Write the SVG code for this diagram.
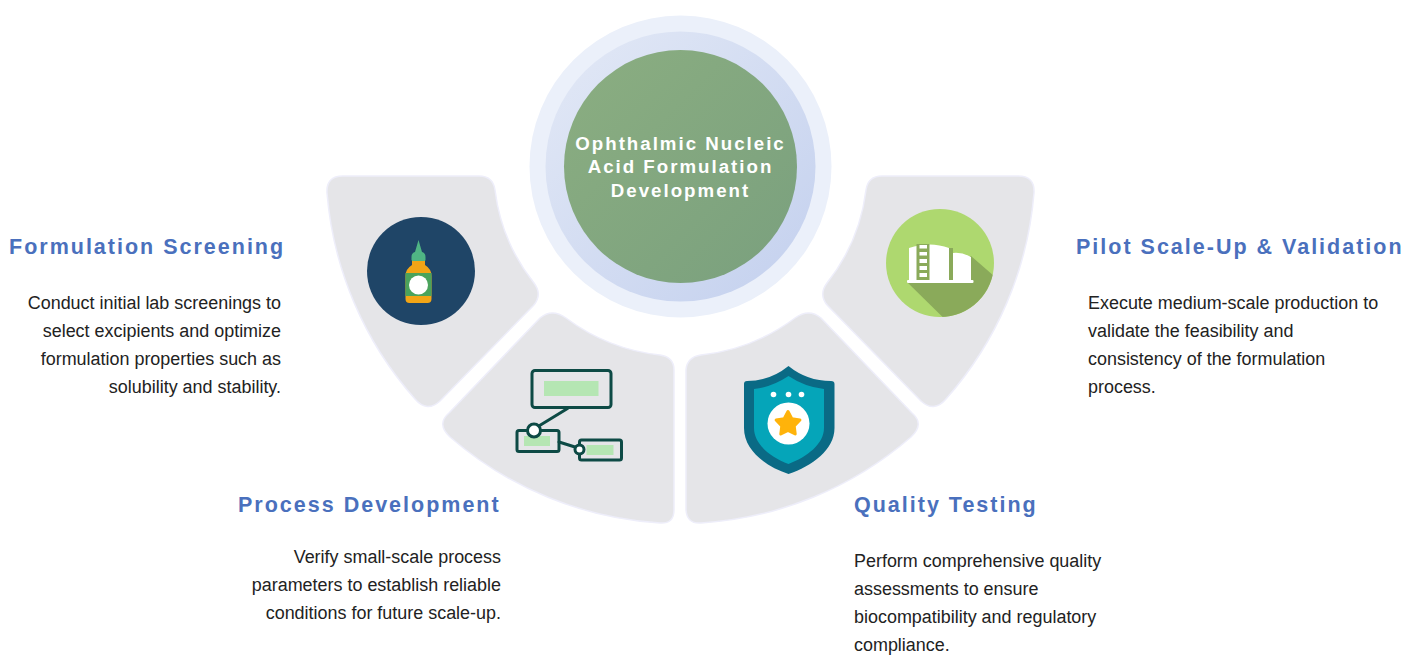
<svg xmlns="http://www.w3.org/2000/svg" width="1420" height="671" viewBox="0 0 1420 671">
<style>
.sector{fill:#e5e5e8;stroke:#eeeefa;stroke-width:1.5}
.head{font-family:"Liberation Sans",Arial,sans-serif;font-weight:700;font-size:21.5px;letter-spacing:2px;fill:#4a70bd}
.body{font-family:"Liberation Sans",Arial,sans-serif;font-size:17.95px;fill:#222}
.center{font-family:"Liberation Sans",Arial,sans-serif;font-weight:700;font-size:18.7px;letter-spacing:2px;fill:#fff;text-anchor:middle}
.end{text-anchor:end}
.line{fill:none;stroke:#0d4a45;stroke-width:3;stroke-linejoin:round;stroke-linecap:round}
.pale{fill:#b5e6b3}
</style>
<defs>
<linearGradient id="hub" x1="0" y1="0" x2="1" y2="1"><stop offset="0" stop-color="#8bae81"/><stop offset="1" stop-color="#7aa07e"/></linearGradient>
<linearGradient id="ring" x1="0" y1="0" x2="1" y2="1"><stop offset="0" stop-color="#e3e9f6"/><stop offset="1" stop-color="#c3d0ee"/></linearGradient>
<clipPath id="tankClip"><circle cx="940" cy="263" r="54"/></clipPath>
</defs>
<rect width="1420" height="671" fill="#fff"/>

<g id="hub-node">
<circle cx="680.5" cy="166.500" r="151" fill="#ebf0fa"/>
<circle cx="680.5" cy="166.500" r="135" fill="url(#ring)"/>
<circle cx="680.5" cy="166.500" r="116.500" fill="url(#hub)"/>
<text class="center" x="680.5" y="150">Ophthalmic Nucleic</text>
<text class="center" x="680.5" y="173">Acid Formulation</text>
<text class="center" x="680.5" y="197">Development</text>
</g>

<g id="formulation-screening">
<path class="sector" d="M343 176 L479 176 Q493 176 495 190 A186 186 0 0 0 534 283 Q543 295 533 306 L440 401 Q427 413 415 399 A354 354 0 0 1 327 193 Q326 176 343 176 Z"/>
<circle cx="421" cy="271" r="54" fill="#1f4567"/>
<path d="M405.500 276 Q405.500 269 412 265 L412 258 L425 258 L425 265 Q431.500 269 431.500 276 L431.500 299 Q431.500 303 427.500 303 L409.500 303 Q405.500 303 405.500 299 Z" fill="#f2a516"/>
<rect x="405.500" y="273" width="26" height="23" fill="#4aa35c"/>
<path d="M418.500 240 L422 252 Q425.500 253 425.500 257 L425.500 260 Q425.500 261 424 261 L413 261 Q411.500 261 411.500 260 L411.500 257 Q411.500 253 415 252 Z" fill="#4fb584"/>
<circle cx="418.500" cy="285" r="9.500" fill="#fff"/>
<text class="head" x="9" y="254">Formulation Screening</text>
<text class="body end" x="281" y="309">Conduct initial lab screenings to</text>
<text class="body end" x="281" y="337">select excipients and optimize</text>
<text class="body end" x="281" y="365">formulation properties such as</text>
<text class="body end" x="281" y="393">solubility and stability.</text>
</g>

<g id="process-development">
<path class="sector" d="M449 413 L540 318 Q552 308 566 318 A192 192 0 0 0 660 355 Q674 357 674 370 L674 510 Q674 524 660 523 A354 354 0 0 1 450 437 Q436 424 449 413 Z"/>
<rect class="pale" x="544" y="381" width="54.500" height="15"/>
<rect class="line" x="532" y="370.500" width="79" height="37" rx="3"/>
<rect class="pale" x="524" y="436" width="26" height="10"/>
<rect class="line" x="517" y="430.500" width="42" height="21" rx="2"/>
<rect class="pale" x="586.500" y="445" width="27" height="10"/>
<rect class="line" x="579.500" y="440" width="42" height="20" rx="2"/>
<path class="line" d="M567.500 408.500 L538 426.500 M559 442 L575 447"/>
<circle class="line" cx="534" cy="430.500" r="6.500" style="fill:#fff"/>
<circle class="line" cx="579.500" cy="449.500" r="4.500" style="fill:#fff"/>
<text class="head" x="238" y="512">Process Development</text>
<text class="body end" x="501" y="563">Verify small-scale process</text>
<text class="body end" x="501" y="591">parameters to establish reliable</text>
<text class="body end" x="501" y="619">conditions for future scale-up.</text>
</g>

<g id="quality-testing">
<path class="sector" d="M912 413 L821 318 Q809 308 795 318 A192 192 0 0 1 701 355 Q687 357 686 370 L686 510 Q687 524 701 523 A354 354 0 0 0 911 437 Q925 424 912 413 Z"/>
<path d="M788.500 366 Q770 381 747 381 Q744 381 744 384 L744 428 C744 450 765 466 788.500 474 C812 466 834.500 450 834.500 428 L834.500 384 Q834.500 381 831 381 Q807 381 788.500 366 Z" fill="#0a6a85"/>
<path d="M788.500 376 Q772 387 754 389 L754 428 C754 444 770 457 788.500 464 C807 457 824 444 824 428 L824 389 Q805 387 788.500 376 Z" fill="#05a5b9"/>
<circle cx="773.500" cy="394.500" r="2.800" fill="#fff"/>
<circle cx="788.500" cy="394.500" r="2.800" fill="#fff"/>
<circle cx="801.500" cy="394.500" r="2.800" fill="#fff"/>
<circle cx="788.500" cy="423.500" r="21" fill="#fff"/>
<polygon points="788,411.500 791.800,418.700 799.900,420 794.200,426 795.200,434 788,430.500 780.800,434 781.800,426 776.100,420 784.200,418.700" fill="#ffb30a" stroke="#ffb30a" stroke-width="3" stroke-linejoin="round"/>
<text class="head" x="854" y="512">Quality Testing</text>
<text class="body" x="854" y="567">Perform comprehensive quality</text>
<text class="body" x="854" y="595">assessments to ensure</text>
<text class="body" x="854" y="623">biocompatibility and regulatory</text>
<text class="body" x="854" y="651">compliance.</text>
</g>

<g id="pilot-scale-up">
<path class="sector" d="M1018 176 L882 176 Q868 176 866 190 A186 186 0 0 1 827 283 Q818 295 828 306 L921 401 Q934 413 946 399 A354 354 0 0 0 1034 193 Q1035 176 1018 176 Z"/>
<circle cx="940" cy="263" r="54" fill="#aed86f"/>
<polygon clip-path="url(#tankClip)" points="907,282 971,256 1010,290 1010,340 966,340" fill="#8aaa5a"/>
<path d="M909 248 Q930 241 949 248 L949 281 L909 281 Z M953 253 Q962 252 971 257 L971 281 L953 281 Z" fill="#fff"/>
<rect x="907" y="280" width="66.500" height="3" rx="1" fill="#fff"/>
<rect x="916.500" y="244" width="13" height="36" fill="#8aaa5a"/>
<rect x="949" y="248" width="4" height="32" fill="#8aaa5a"/>
<path d="M919.500 245h7.500v3.500h-7.500z M919.500 252h7.500v3.500h-7.500z M919.500 259h7.500v4h-7.500z M919.500 266h7.500v4h-7.500z M919.500 273h7.500v4h-7.500z" fill="#fff"/>
<text class="head" x="1076" y="254">Pilot Scale-Up &amp; Validation</text>
<text class="body" x="1088" y="309">Execute medium-scale production to</text>
<text class="body" x="1088" y="337">validate the feasibility and</text>
<text class="body" x="1088" y="365">consistency of the formulation</text>
<text class="body" x="1088" y="393">process.</text>
</g>
</svg>
